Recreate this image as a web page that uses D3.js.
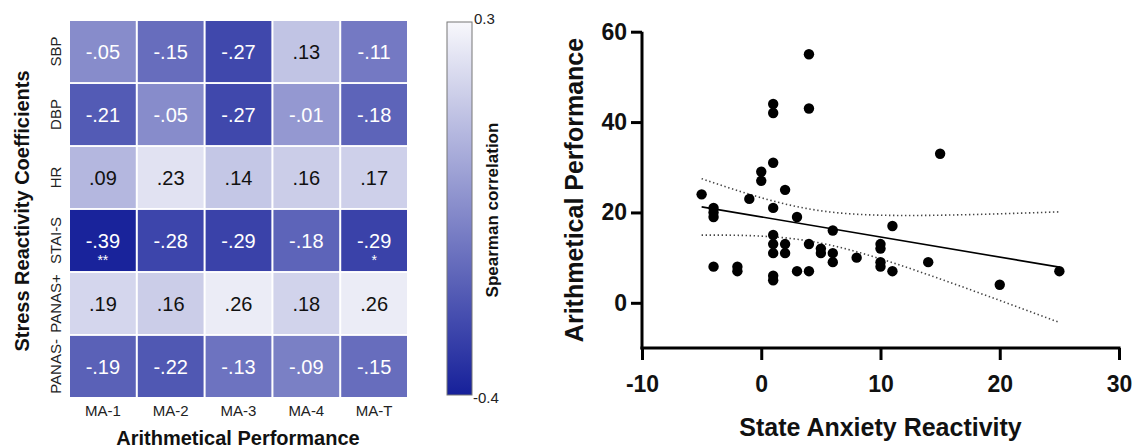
<!DOCTYPE html>
<html><head><meta charset="utf-8">
<script src="https://cdn.jsdelivr.net/npm/d3@7"></script>
<style>
html,body{margin:0;padding:0;background:#fff;}
svg{display:block;font-family:"Liberation Sans",Arial,Helvetica,sans-serif;}
</style></head>
<body>
<svg id="chart" width="1135" height="448"></svg>
<script>
// ---------- Heatmap data ----------
const rowLabels = ["SBP","DBP","HR","STAI-S","PANAS+","PANAS-"];
const colLabels = ["MA-1","MA-2","MA-3","MA-4","MA-T"];
const corrSBP   = [-0.05,-0.15,-0.27, 0.13,-0.11];
const corrDBP   = [-0.21,-0.05,-0.27,-0.01,-0.18];
const corrHR    = [ 0.09, 0.23, 0.14, 0.16, 0.17];
const corrSTAI  = [-0.39,-0.28,-0.29,-0.18,-0.29];
const corrPANASp= [ 0.19, 0.16, 0.26, 0.18, 0.26];
const corrPANASm= [-0.19,-0.22,-0.13,-0.09,-0.15];
const sigSTAI   = ["**","","","","*"];
const colorDomain = [-0.4, 0.3];

// ---------- Scatter data ----------
const anxiety = [-5,-4,-4,-4,-4,-2,-2,-1,0,0,1,1,1,1,1,1,1,1,1,2,2,2,3,3,4,4,4,4,5,5,6,6,6,8,10,10,10,10,11,11,14,15,20,25];
const arith   = [24,21,20,19,8,8,7,23,29,27,44,42,31,21,15,13,11,6,5,25,13,11,19,7,55,43,13,7,12,11,16,11,9,10,13,12,9,8,17,7,9,33,4,7];
const xTicks = [-10,0,10,20,30];
const yTicks = [0,20,40,60];

const svg = d3.select("#chart");

// ================= HEATMAP =================
const matrix = [corrSBP,corrDBP,corrHR,corrSTAI,corrPANASp,corrPANASm];
const stars = [[],[],[],sigSTAI,[],[]];
const hx = d3.scaleBand().domain(colLabels).range([70,407]).paddingInner(0.03);
const hy = d3.scaleBand().domain(rowLabels).range([21,397]).paddingInner(0.03);
const color = d3.scaleLinear().domain(colorDomain).range(["#16209a","#f8f8fc"]).interpolate(d3.interpolateRgb).clamp(true);

const cells = [];
matrix.forEach((row,i)=>row.forEach((v,j)=>cells.push({r:rowLabels[i],c:colLabels[j],v,s:(stars[i][j]||"")})));
const fmt = v => (v<0?"-":"") + Math.abs(v).toFixed(2).replace(/^0/,"");

const hg = svg.append("g");
hg.selectAll("rect.cell").data(cells).join("rect")
  .attr("class","cell")
  .attr("x",d=>hx(d.c)).attr("y",d=>hy(d.r))
  .attr("width",hx.bandwidth()).attr("height",hy.bandwidth())
  .attr("fill",d=>color(d.v));
hg.selectAll("text.val").data(cells).join("text")
  .attr("class","val")
  .attr("x",d=>hx(d.c)+hx.bandwidth()/2)
  .attr("y",d=>hy(d.r)+hy.bandwidth()/2)
  .attr("dy","0.36em")
  .attr("text-anchor","middle")
  .attr("font-size",20)
  .attr("fill",d=>d.v<0?"#ffffff":"#111111")
  .text(d=>fmt(d.v));
hg.selectAll("text.star").data(cells.filter(d=>d.s)).join("text")
  .attr("class","star")
  .attr("x",d=>hx(d.c)+hx.bandwidth()/2)
  .attr("y",d=>hy(d.r)+hy.bandwidth()/2+25)
  .attr("text-anchor","middle")
  .attr("font-size",14)
  .attr("fill","#ffffff")
  .text(d=>d.s);

// column labels
hg.selectAll("text.col").data(colLabels).join("text")
  .attr("class","col")
  .attr("x",d=>hx(d)+hx.bandwidth()/2).attr("y",411)
  .attr("dy","0.35em").attr("text-anchor","middle")
  .attr("font-size",15).attr("fill","#222").text(d=>d);
// row labels
hg.selectAll("text.row").data(rowLabels).join("text")
  .attr("class","row")
  .attr("transform",d=>`translate(56,${hy(d)+hy.bandwidth()/2}) rotate(-90)`)
  .attr("dy","0.35em").attr("text-anchor","middle")
  .attr("font-size",15).attr("fill","#222").text(d=>d);
// titles
hg.append("text").attr("transform","translate(22,211) rotate(-90)")
  .attr("dy","0.35em").attr("text-anchor","middle")
  .attr("font-size",20).attr("font-weight","bold").attr("fill","#111")
  .text("Stress Reactivity Coefficients");
hg.append("text").attr("x",238).attr("y",438)
  .attr("dy","0.35em").attr("text-anchor","middle")
  .attr("font-size",20).attr("font-weight","bold").attr("fill","#111")
  .text("Arithmetical Performance");

// colorbar
const defs = svg.append("defs");
const grad = defs.append("linearGradient").attr("id","cbar").attr("x1",0).attr("y1",1).attr("x2",0).attr("y2",0);
d3.range(0,1.0001,0.1).forEach(t=>{
  grad.append("stop").attr("offset",t).attr("stop-color",color(colorDomain[0]+t*(colorDomain[1]-colorDomain[0])));
});
const cbY = d3.scaleLinear().domain(colorDomain).range([395,22]);
svg.append("rect").attr("x",447).attr("y",cbY(colorDomain[1]))
  .attr("width",25).attr("height",cbY(colorDomain[0])-cbY(colorDomain[1]))
  .attr("fill","url(#cbar)").attr("stroke","#777").attr("stroke-width",1);
svg.append("text").attr("x",474).attr("y",cbY(colorDomain[1])+2).attr("font-size",15).attr("fill","#222").text("0.3");
svg.append("text").attr("x",473).attr("y",cbY(colorDomain[0])+8).attr("font-size",15).attr("fill","#222").text("-0.4");
svg.append("text").attr("transform","translate(492,210) rotate(-90)")
  .attr("dy","0.35em").attr("text-anchor","middle")
  .attr("font-size",17).attr("font-weight","bold").attr("fill","#111")
  .text("Spearman correlation");

// ================= SCATTER =================
const sx = d3.scaleLinear().domain([-10,30]).range([642,1119]);
const sy = d3.scaleLinear().domain([-10,60]).range([348,31.7]);
const sg = svg.append("g");

// regression and 95% CI of the mean
const n = anxiety.length;
const mx = d3.mean(anxiety), my = d3.mean(arith);
let sxx=0, sxy=0;
for(let i=0;i<n;i++){sxx+=(anxiety[i]-mx)**2; sxy+=(anxiety[i]-mx)*(arith[i]-my);}
const b = sxy/sxx, a = my - b*mx;
let sse=0; for(let i=0;i<n;i++){sse+=(arith[i]-(a+b*anxiety[i]))**2;}
const s = Math.sqrt(sse/(n-2)), tcrit = 2.018;
const xmin = d3.min(anxiety), xmax = d3.max(anxiety);
const xs = d3.range(xmin, xmax+0.001, 0.25);
const band = xs.map(x=>{const h=tcrit*s*Math.sqrt(1/n+(x-mx)**2/sxx); const yh=a+b*x; return {x, lo:yh-h, hi:yh+h};});
const ln = d3.line().x(d=>sx(d[0])).y(d=>sy(d[1]));
sg.append("path").attr("d",ln(band.map(d=>[d.x,d.hi]))).attr("fill","none").attr("stroke","#444").attr("stroke-width",1.6).attr("stroke-dasharray","1.4,2.6");
sg.append("path").attr("d",ln(band.map(d=>[d.x,d.lo]))).attr("fill","none").attr("stroke","#444").attr("stroke-width",1.6).attr("stroke-dasharray","1.4,2.6");
sg.append("path").attr("d",ln([[xmin,a+b*xmin],[xmax,a+b*xmax]])).attr("fill","none").attr("stroke","#000").attr("stroke-width",1.6);

// points
sg.selectAll("circle").data(anxiety.map((x,i)=>[x,arith[i]])).join("circle")
  .attr("cx",d=>sx(d[0])).attr("cy",d=>sy(d[1])).attr("r",5.2).attr("fill","#000");

// axes
const intFmt = d => String(d);
const xAxis = d3.axisBottom(sx).tickValues(xTicks).tickFormat(intFmt).tickSize(12).tickPadding(16).tickSizeOuter(0);
const yAxis = d3.axisLeft(sy).tickValues(yTicks).tickFormat(intFmt).tickSize(11).tickPadding(4).tickSizeOuter(0);
const gx = sg.append("g").attr("transform",`translate(0,${sy(-10)})`).call(xAxis);
const gy = sg.append("g").attr("transform",`translate(${sx(-10)},0)`).call(yAxis);
[gx,gy].forEach(g=>{
  g.select(".domain").attr("stroke","#000").attr("stroke-width",3);
  g.selectAll(".tick line").attr("stroke","#000").attr("stroke-width",3);
  g.selectAll(".tick text").attr("font-size",23).attr("font-weight","bold").attr("fill","#111")
    .attr("font-family","\"Liberation Sans\",Arial,sans-serif");
});
gy.select(".domain").attr("d",`M0,${sy(-10)+1.5}V${sy(60)}`);
gx.select(".domain").attr("d",`M${sx(-10)-1.5},0H${sx(30)+1.5}`);

sg.append("text").attr("x",(sx(-10)+sx(30))/2).attr("y",427)
  .attr("dy","0.35em").attr("text-anchor","middle")
  .attr("font-size",25).attr("font-weight","bold").attr("fill","#111")
  .text("State Anxiety Reactivity");
sg.append("text").attr("transform","translate(574,190) rotate(-90)")
  .attr("dy","0.35em").attr("text-anchor","middle")
  .attr("font-size",25).attr("font-weight","bold").attr("fill","#111")
  .text("Arithmetical Performance");
</script>
</body></html>
